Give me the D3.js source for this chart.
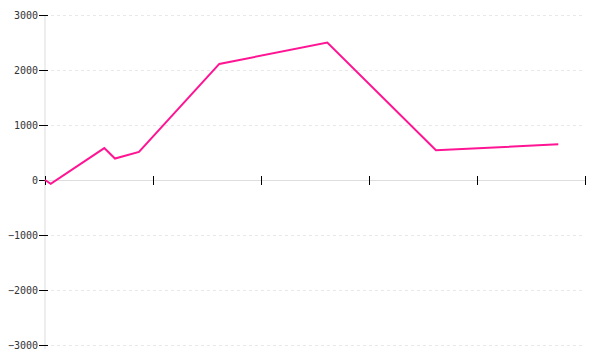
<!DOCTYPE html>
<html>
<head>
<meta charset="utf-8">
<script src="https://cdn.jsdelivr.net/npm/d3@7/dist/d3.min.js"></script>
<style>
  html, body { margin: 0; padding: 0; background: #fff; }
  svg { display: block; }
</style>
</head>
<body>
<svg id="chart" width="600" height="360"></svg>
<script>
const xValues = [0, 0.053, 0.549, 0.648, 0.870, 1.614, 2.614, 3.620, 4.753];
const yValues = [0, -70, 580, 390, 510, 2110, 2500, 540, 650];
const xTicks = [0, 1, 2, 3, 4, 5];
const yTicks = [-3000, -2000, -1000, 0, 1000, 2000, 3000];

const svg = d3.select("#chart");
const margin = { left: 45, right: 15, top: 15, bottom: 15 };
const W = 600, H = 360;

const x = d3.scaleLinear().domain([0, 5]).range([margin.left, W - margin.right]);
const y = d3.scaleLinear().domain([-3000, 3000]).range([H - margin.bottom, margin.top]);

// grid lines
svg.append("g")
  .selectAll("line")
  .data(yTicks.filter(d => d !== 0))
  .join("line")
  .attr("x1", x(0) + 6)
  .attr("x2", x(5))
  .attr("y1", d => Math.round(y(d)) + 0.5)
  .attr("y2", d => Math.round(y(d)) + 0.5)
  .attr("stroke", "#e8e8e8")
  .attr("stroke-dasharray", "3,3");

// y axis
const yAxis = svg.append("g")
  .attr("transform", `translate(${x(0)},0)`)
  .call(d3.axisLeft(y).tickValues(yTicks).tickSize(6).tickPadding(1).tickFormat(d3.format("d")));
yAxis.select(".domain").remove();
yAxis.selectAll(".tick line").attr("x1", 3).attr("stroke", "#000");
yAxis.selectAll(".tick text")
  .attr("font-family", "DejaVu Sans Mono, monospace")
  .attr("font-size", 10)
  .attr("fill", "#333");
yAxis.insert("line", ":first-child")
  .attr("x1", 0).attr("x2", 0)
  .attr("y1", y(3000)).attr("y2", y(-3000) + 4)
  .attr("stroke", "#ddd");

// x axis at zero
const xAxis = svg.append("g")
  .attr("transform", `translate(0,${y(0)})`)
  .call(d3.axisBottom(x).tickValues(xTicks).tickSize(5).tickFormat(""));
xAxis.select(".domain").attr("stroke", "#ddd");
xAxis.selectAll(".tick line").attr("y1", -4).attr("stroke", "#000");

// line
const pts = xValues.map((v, i) => [v, yValues[i]]);
svg.append("path")
  .datum(pts)
  .attr("fill", "none")
  .attr("stroke", "#ff1493")
  .attr("stroke-width", 2)
  .attr("d", d3.line().x(d => x(d[0])).y(d => y(d[1])));
</script>
</body>
</html>
